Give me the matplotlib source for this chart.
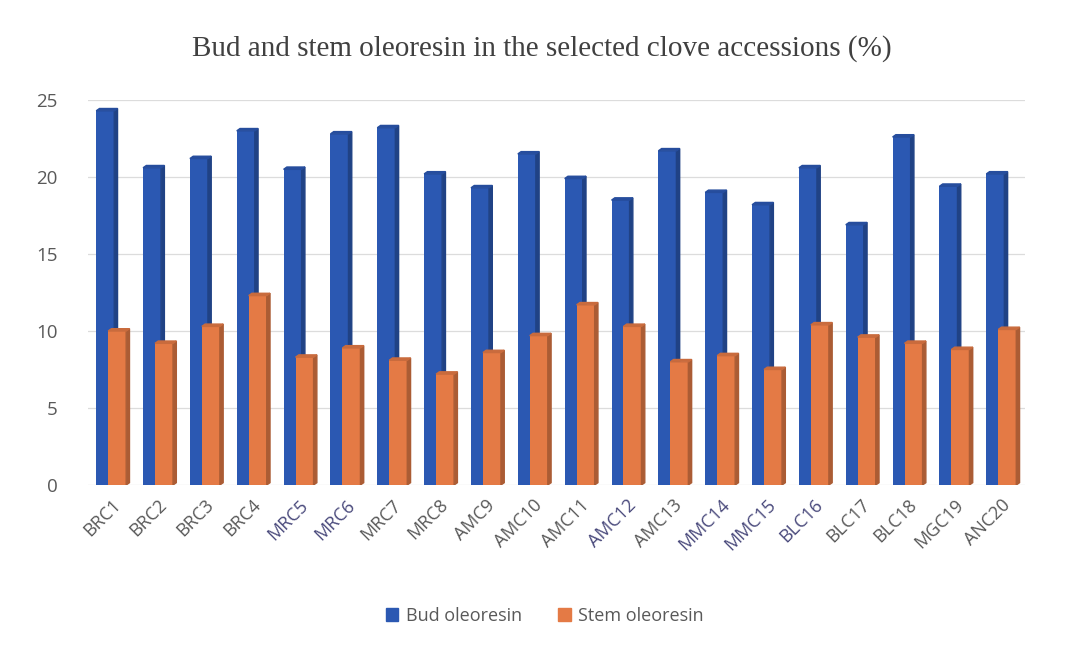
import numpy as np
import matplotlib.pyplot as plt
from matplotlib.patches import Polygon, Patch

# Oleoresin content (%) per clove accession
accessions = ['BRC1', 'BRC2', 'BRC3', 'BRC4', 'MRC5', 'MRC6', 'MRC7', 'MRC8',
              'AMC9', 'AMC10', 'AMC11', 'AMC12', 'AMC13', 'MMC14', 'MMC15',
              'BLC16', 'BLC17', 'BLC18', 'MGC19', 'ANC20']
bud_oleoresin = [24.3, 20.6, 21.2, 23.0, 20.5, 22.8, 23.2, 20.2, 19.3, 21.5,
                 19.9, 18.5, 21.7, 19.0, 18.2, 20.6, 16.9, 22.6, 19.4, 20.2]
stem_oleoresin = [10.0, 9.2, 10.3, 12.3, 8.3, 8.9, 8.1, 7.2, 8.6, 9.7,
                  11.7, 10.3, 8.0, 8.4, 7.5, 10.4, 9.6, 9.2, 8.8, 10.1]
bluish_labels = ['MRC5', 'MRC6', 'AMC12', 'MMC14', 'MMC15', 'BLC16']

blue = '#2b58b2'
orange = '#e47a45'
grey = '#595959'

fig = plt.figure(figsize=(10.72, 6.47), dpi=100)
ax = fig.add_axes([0.082, 0.2504, 0.874, 0.595])

x = np.arange(len(accessions))
w = 0.385
depth_x, depth_y = 0.07, 0.15


def shade(c, f):
    r, g, b = [int(c[i:i + 2], 16) / 255 for i in (1, 3, 5)]
    return (r * f, g * f, b * f)


def bars_3d(xc, vals, color, z):
    ax.bar(xc, vals, width=w, color=color, zorder=z)
    for xi, v in zip(xc, vals):
        right = xi + w / 2
        left = xi - w / 2
        side = Polygon([(right, 0), (right + depth_x, depth_y),
                        (right + depth_x, v + depth_y), (right, v)],
                       closed=True, color=shade(color, 0.75), zorder=z)
        top = Polygon([(left, v), (left + depth_x, v + depth_y),
                       (right + depth_x, v + depth_y), (right, v)],
                      closed=True, color=shade(color, 0.88), zorder=z)
        ax.add_patch(side)
        ax.add_patch(top)


bars_3d(x - 0.13, bud_oleoresin, blue, 2)
bars_3d(x + 0.125, stem_oleoresin, orange, 3)

ax.set_xlim(-0.5, len(accessions) - 0.5)
ax.set_ylim(0, 25)
ax.set_yticks([0, 5, 10, 15, 20, 25])
ax.yaxis.grid(True, color='#dcdcdc', linewidth=0.9, zorder=0)
ax.set_axisbelow(True)
for s in ax.spines.values():
    s.set_visible(False)
ax.tick_params(axis='both', length=0, labelcolor=grey)
ax.tick_params(axis='y', pad=22, labelsize=13.5)
for lbl in ax.get_yticklabels():
    lbl.set_family('Open Sans')

ax.set_xticks(x)
ax.set_xticklabels(accessions, rotation=45, ha='right', rotation_mode='anchor',
                   fontsize=13, family='Open Sans')
ax.tick_params(axis='x', pad=8)
for lbl in ax.get_xticklabels():
    if lbl.get_text() in bluish_labels:
        lbl.set_color('#4a4a7c')

fig.text(0.505, 0.925, 'Bud and stem oleoresin in the selected clove accessions (%)',
         ha='center', va='center', fontsize=21, family='Liberation Serif',
         color='#404040')

handles = [Patch(color=blue, label='Bud oleoresin'),
           Patch(color=orange, label='Stem oleoresin')]
leg = fig.legend(handles=handles, loc='center', bbox_to_anchor=(0.508, 0.048),
                 ncol=2, frameon=False, handlelength=0.7,
                 handleheight=0.7, handletextpad=0.4, columnspacing=2.0,
                 prop={'family': 'Open Sans', 'size': 13})
for t in leg.get_texts():
    t.set_color(grey)

fig.savefig('out.png', dpi=100)
